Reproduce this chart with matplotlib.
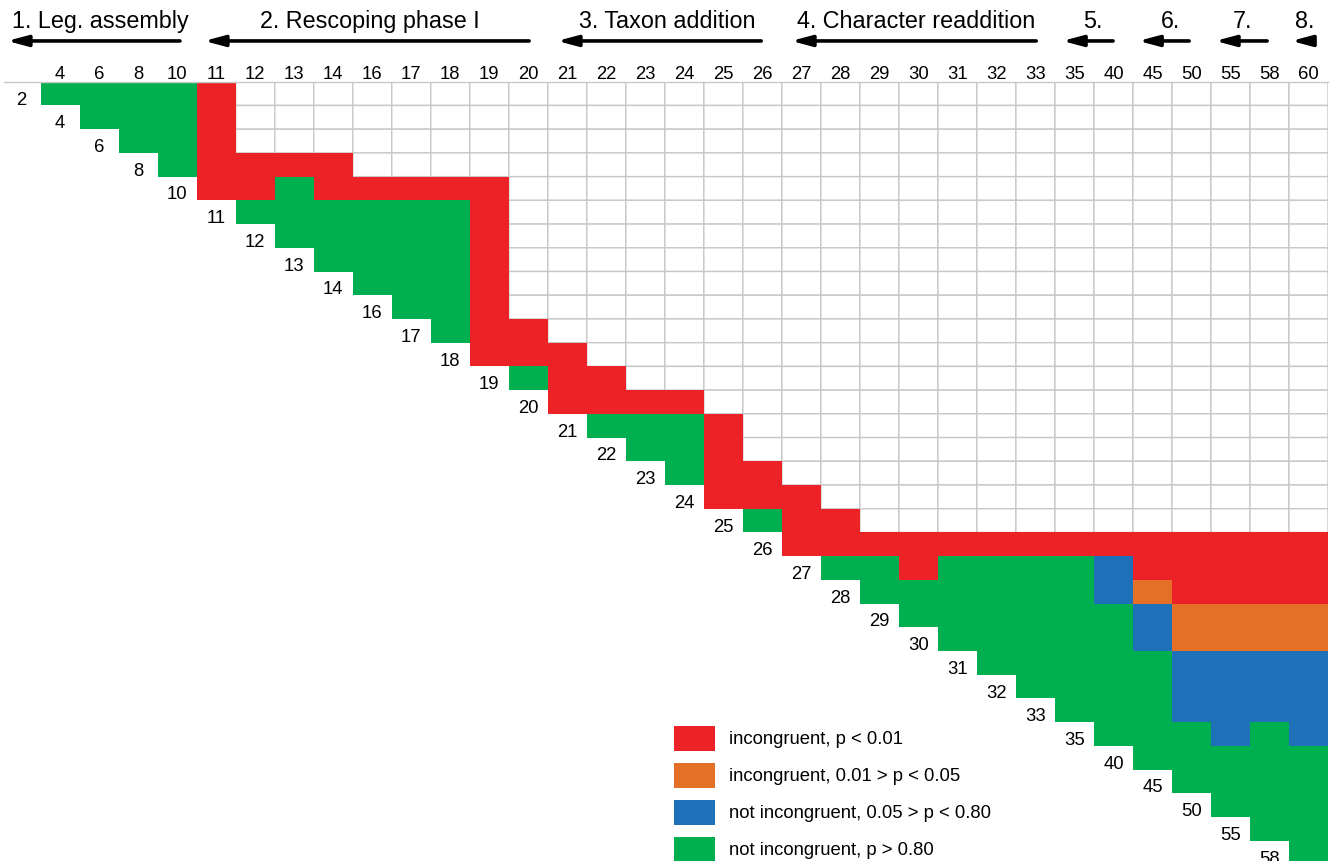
import matplotlib
matplotlib.use('Agg')
import matplotlib.pyplot as plt
import numpy as np
from matplotlib.colors import ListedColormap
from matplotlib.patches import Rectangle

plt.rcParams['font.family'] = ['Liberation Sans', 'DejaVu Sans']

# versions compared (columns = later version, rows = earlier version)
col_versions = [4, 6, 8, 10, 11, 12, 13, 14, 16, 17, 18, 19, 20, 21, 22, 23, 24,
                25, 26, 27, 28, 29, 30, 31, 32, 33, 35, 40, 45, 50, 55, 58, 60]
row_versions = [2, 4, 6, 8, 10, 11, 12, 13, 14, 16, 17, 18, 19, 20, 21, 22, 23,
                24, 25, 26, 27, 28, 29, 30, 31, 32, 33, 35, 40, 45, 50, 55, 58]

# one string per row, starting at the diagonal
# R = p < 0.01, O = 0.01-0.05, B = 0.05-0.80, G = p > 0.80, . = not tested
row_codes = [
    "GGGGR" + "." * 28,
    "GGGR" + "." * 28,
    "GGR" + "." * 28,
    "GRRRR" + "." * 25,
    "RRGRRRRR" + "." * 21,
    "GGGGGGR" + "." * 21,
    "GGGGGR" + "." * 21,
    "GGGGR" + "." * 21,
    "GGGR" + "." * 21,
    "GGR" + "." * 21,
    "GRR" + "." * 20,
    "RRR" + "." * 19,
    "GRR" + "." * 18,
    "RRRR" + "." * 16,
    "GGGR" + "." * 15,
    "GGR" + "." * 15,
    "GRR" + "." * 14,
    "RRR" + "." * 13,
    "GRR" + "." * 12,
    "RRRRRRRRRRRRRR",
    "GGRGGGGBRRRRR",
    "GGGGGGBORRRR",
    "GGGGGGBOOOO",
    "GGGGGBOOOO",
    "GGGGGBBBB",
    "GGGGBBBB",
    "GGGBBBB",
    "GGGBGB",
    "GGGGG",
    "GGGG",
    "GGG",
    "GG",
    "G",
]

stage_names = ['1. Leg. assembly', '2. Rescoping phase I', '3. Taxon addition',
               '4. Character readdition', '5.', '6.', '7.', '8.']

legend_labels = ['incongruent, p < 0.01', 'incongruent, 0.01 > p < 0.05',
                 'not incongruent, 0.05 > p < 0.80', 'not incongruent, p > 0.80']
legend_colors = ['#ED2226', '#E46F26', '#1E70B8', '#00B050']

# layout (column units) for stage headers and arrows
stage_text_x = [1.52, 8.44, 16.06, 22.44, 26.97, 28.95, 30.8, 32.4]
arrow_tail = [3.57, 12.52, 18.47, 25.52, 27.49, 29.44, 31.44, 32.62]
arrow_tip = [-0.86, 4.19, 13.24, 19.24, 26.19, 28.14, 30.11, 32.06]

code_val = {'.': 0, 'R': 1, 'O': 2, 'B': 3, 'G': 4}
n = len(col_versions)
M = -np.ones((n, n), dtype=int)
for i, s in enumerate(row_codes):
    for k, ch in enumerate(s):
        M[i, i + k] = code_val[ch]

fig = plt.figure(figsize=(13.36, 8.62), dpi=100)
ax = fig.add_axes([40.7 / 1336, -0.0041, 1287.3 / 1336, 0.9081])
ax.set_xlim(0, n)
ax.set_ylim(n, 0)
ax.axis('off')

edges = np.arange(n + 1)
white = np.ma.masked_where(M != 0, M)
ax.pcolor(edges, edges, white, cmap=ListedColormap(['white']),
          edgecolors='#C8C8C8', linewidth=1.0, zorder=1)
colored = np.ma.masked_where(M < 1, M)
ax.pcolormesh(edges, edges, colored, cmap=ListedColormap(legend_colors),
              vmin=0.5, vmax=4.5, zorder=2)
ax.plot([-0.95, n], [0, 0], color='#C8C8C8', lw=1.0, clip_on=False, zorder=3)

for j, v in enumerate(col_versions):
    ax.text(j + 0.5, -0.16, str(v), ha='center', va='baseline', fontsize=13.3)
for i, v in enumerate(row_versions):
    ax.text(i - 0.5, i + 0.92, str(v), ha='center', va='baseline', fontsize=13.3)

for name, tx, t0, t1 in zip(stage_names, stage_text_x, arrow_tail, arrow_tip):
    ax.text(tx, -2.31, name, ha='center', va='baseline', fontsize=16.8)
    ax.annotate('', xy=(t1, -1.72), xytext=(t0, -1.72), annotation_clip=False,
                arrowprops=dict(arrowstyle='-|>,head_length=0.6,head_width=0.16',
                                mutation_scale=20, lw=2.6, color='black',
                                shrinkA=0, shrinkB=0))

for k, (lab, c) in enumerate(zip(legend_labels, legend_colors)):
    y0 = 27.18 + 1.56 * k
    ax.add_patch(Rectangle((16.24, y0), 1.05, 1.03, facecolor=c,
                           edgecolor='none', clip_on=False, zorder=4))
    ax.text(17.65, y0 + 0.52, lab, ha='left', va='center', fontsize=13.3)

fig.savefig('out.png', dpi=100)
